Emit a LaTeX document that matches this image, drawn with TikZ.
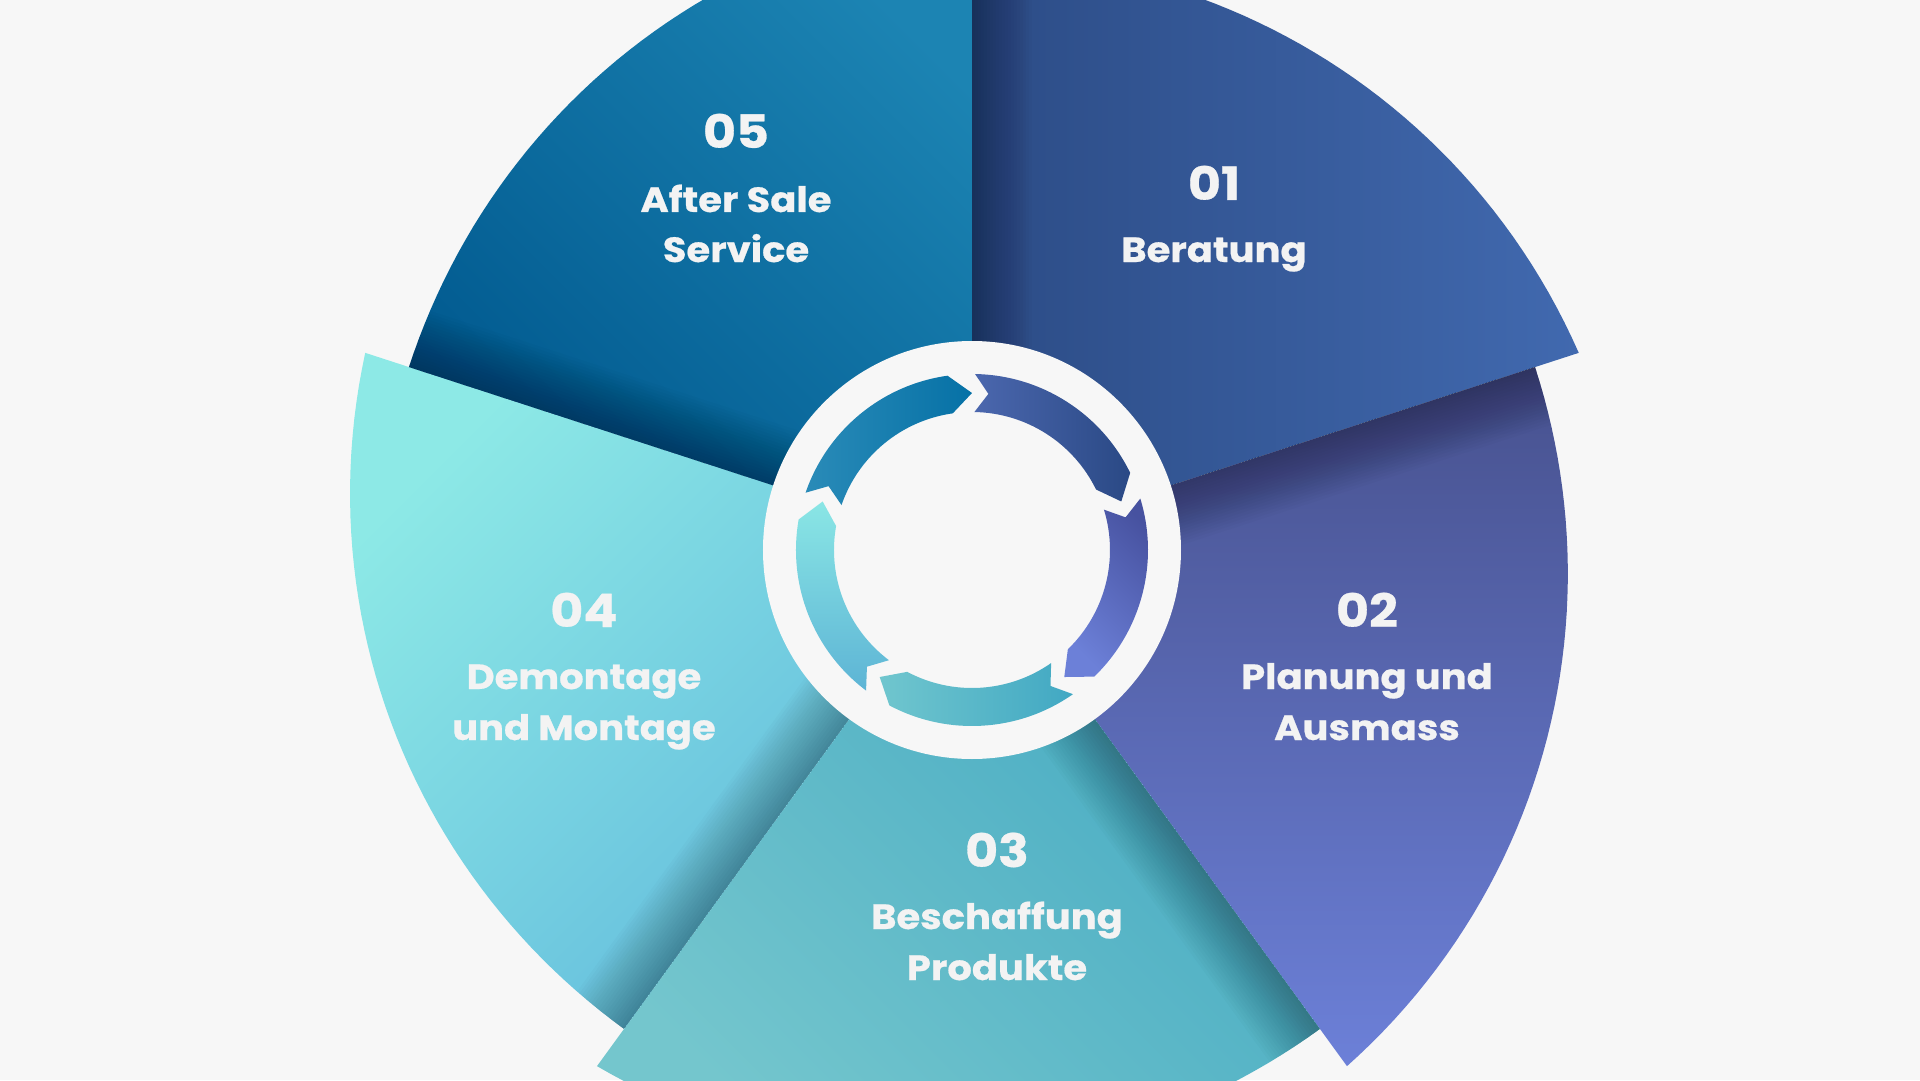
\documentclass[tikz,border=0pt]{standalone}
\usepackage{fontspec}
\setmainfont{Poppins}
\newfontfamily\lblfont{Poppins}[FakeStretch=1.1, FakeBold=0.6]
\definecolor{bg}{HTML}{F7F7F7}
\definecolor{txt}{HTML}{F3F3F3}
% wedge colours
\definecolor{w1a}{HTML}{4169AF}\definecolor{w1b}{HTML}{2C4C86}
\definecolor{w2a}{HTML}{47518E}\definecolor{w2b}{HTML}{6C80D8}
\definecolor{w3a}{HTML}{74C6CD}\definecolor{w3b}{HTML}{44A9C2}
\definecolor{w4a}{HTML}{8DE9E6}\definecolor{w4b}{HTML}{60B9DC}
\definecolor{w5a}{HTML}{1C84B3}\definecolor{w5b}{HTML}{00588E}
% arrow colours
\definecolor{a1a}{HTML}{4B67AE}\definecolor{a1b}{HTML}{2A4985}
\definecolor{a2a}{HTML}{6C80D8}\definecolor{a2b}{HTML}{4752A0}
\definecolor{a3a}{HTML}{70C6CE}\definecolor{a3b}{HTML}{41A8C3}
\definecolor{a4a}{HTML}{8AE6E5}\definecolor{a4b}{HTML}{5DB4D5}
\definecolor{a5a}{HTML}{2A8BB8}\definecolor{a5b}{HTML}{0671A6}
\tikzset{
  numtxt/.style={text=txt, font=\lblfont\fontsize{46}{46}\selectfont\bfseries, anchor=base, inner sep=0pt},
  labtxt/.style={text=txt, font=\lblfont\fontsize{35}{40}\selectfont\bfseries, anchor=base, inner sep=0pt},
}
\begin{document}
\begin{tikzpicture}[x=1pt,y=1pt]
\useasboundingbox (-972,-530) rectangle (948,550);
\clip (-972,-530) rectangle (948,550);
\fill[bg] (-972,-530) rectangle (948,550);
% wedges
\foreach \s/\ca/\cb/\sa in {90/w1a/w1b/-90, 18/w2a/w2b/0, -54/w3a/w3b/135, -126/w4a/w4b/45, 162/w5a/w5b/-45}{
  \shade[top color=\ca, bottom color=\cb, shading angle=\sa]
    (0,0) -- plot[domain=0:72, samples=49, variable=\p] ({\s-\p}:{592+(\p/10)*(\p/10)*(1.1188-0.003215*\p)}) -- cycle;
  \begin{scope}
    \clip (0,0) -- plot[domain=0:72, samples=49, variable=\p] ({\s-\p}:{592+(\p/10)*(\p/10)*(1.1188-0.003215*\p)}) -- cycle;
    \foreach \w in {3,6,...,60}{
      \fill[black, opacity=0.016, rotate=\s] (0,0) rectangle (800,-\w);
    }
  \end{scope}
}
% central ring
\fill[bg] (0,0) circle (209);
% arrows
\foreach \H/\ca/\cb/\sa in {18/a1a/a1b/90, -54/a2a/a2b/135, -126/a3a/a3b/90, 162/a4a/a4b/0, 90/a5a/a5b/90}{
  \shade[top color=\ca, bottom color=\cb, shading angle=\sa]
    ({\H+71}:176) arc[start angle={\H+71}, end angle={\H+8}, radius=176]
    -- ({\H}:157) -- ({\H+8}:138)
    arc[start angle={\H+8}, end angle={\H+71}, radius=138]
    -- ({\H+66}:157) -- cycle;
}
% texts
\node[numtxt] (n1) at (242,350) {01};
\node[labtxt] (l1a) at (242,288) {Beratung};
\node[numtxt] (n2) at (395,-77) {02};
\node[labtxt] (l2a) at (395,-139) {Planung und};
\node[labtxt] (l2b) at (395,-190) {Ausmass};
\node[numtxt] (n3) at (25,-317) {03};
\node[labtxt] (l3a) at (25,-379) {Beschaffung};
\node[labtxt] (l3b) at (25,-430) {Produkte};
\node[numtxt] (n4) at (-388,-77) {04};
\node[labtxt] (l4a) at (-388,-139) {Demontage};
\node[labtxt] (l4b) at (-388,-190) {und Montage};
\node[numtxt] (n5) at (-236,402) {05};
\node[labtxt] (l5a) at (-236,338) {After Sale};
\node[labtxt] (l5b) at (-236,288) {Service};
\end{tikzpicture}
\end{document}
